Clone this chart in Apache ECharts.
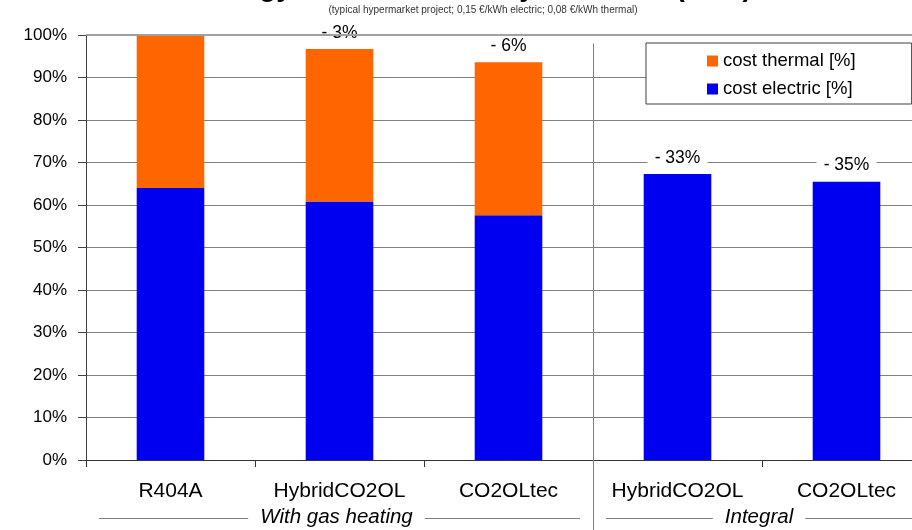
<!DOCTYPE html>
<html><head><meta charset="utf-8">
<script src="https://cdn.jsdelivr.net/npm/echarts@6/dist/echarts.min.js"></script>
<style>html,body{margin:0;padding:0;background:#fff;overflow:hidden;width:912px;height:530px}#c{width:931px;height:530px}</style>
</head><body><div id="c"></div>
<script>
const categories = ['R404A', 'HybridCO2OL', 'CO2OLtec', 'HybridCO2OL', 'CO2OLtec'];
const groupNames = ['With gas heating', 'Integral'];
const groupFrom = [0, 3];
const groupTo = [2, 4];
const electric = [64.0, 60.8, 57.6, 67.3, 65.5];
const thermal = [36.0, 35.9, 36.0, 0, 0];
const savings = ['', '- 3%', '- 6%', '- 33%', '- 35%'];
const seriesNames = ['cost electric [%]', 'cost thermal [%]'];
const titleText = 'Energy costs \u2013 electricity + thermal (in %)';
const subtitleText = '(typical hypermarket project; 0,15 \u20ac/kWh electric; 0,08 \u20ac/kWh thermal)';

const FONT = 'Arial, "Liberation Sans", sans-serif';
const chart = echarts.init(document.getElementById('c'));

const labelBase = {
  position: 'top', distance: 6, fontSize: 17.5, fontFamily: FONT, color: '#000',
  backgroundColor: '#fff', width: 60, align: 'center', padding: [1, 0]
};
const elecData = electric.map((v, i) => ({
  value: v,
  label: Object.assign({}, labelBase, { show: !(thermal[i] > 0) && savings[i] !== '', formatter: savings[i] })
}));
const thermData = thermal.map((v, i) => ({
  value: v,
  label: Object.assign({}, labelBase, { show: thermal[i] > 0 && savings[i] !== '', formatter: savings[i] })
}));

chart.setOption({
  animation: false,
  backgroundColor: '#fff',
  textStyle: { fontFamily: FONT },
  grid: { left: 86, top: 35, right: 0, bottom: 70, containLabel: false },
  legend: {
    data: [seriesNames[1], seriesNames[0]],
    orient: 'vertical', left: 646, top: 43,
    padding: [8, 56, 5, 61], itemGap: 8,
    itemWidth: 11, itemHeight: 11, icon: 'rect',
    backgroundColor: '#fff', borderColor: '#404040', borderWidth: 1,
    textStyle: { fontSize: 18.5, fontFamily: FONT, color: '#000', lineHeight: 20 },
    selectedMode: false
  },
  xAxis: {
    type: 'category', data: categories,
    axisLine: { lineStyle: { color: '#333', width: 1 } },
    axisTick: { show: true, length: 7, lineStyle: { color: '#333' } },
    axisLabel: { interval: 0, fontSize: 21, fontFamily: FONT, color: '#000', margin: 21 },
    splitLine: { show: false }
  },
  yAxis: {
    type: 'value', min: 0, max: 100, interval: 10,
    axisLine: { show: true, lineStyle: { color: '#404040', width: 1 } },
    axisTick: { show: true, length: 8, lineStyle: { color: '#404040' } },
    axisLabel: { formatter: '{value}%', fontSize: 17, fontFamily: FONT, color: '#000', margin: 19 },
    splitLine: { show: true, lineStyle: { color: '#808080', width: 1 } }
  },
  series: [
    {
      name: seriesNames[0], type: 'bar', stack: 'total', barWidth: '40%',
      itemStyle: { color: '#0000F0' }, data: elecData,
      markLine: {
        silent: true, symbol: 'none', label: { show: false },
        lineStyle: { color: '#a0a0a0', width: 2, type: 'solid' },
        data: [{ yAxis: 100 }]
      }
    },
    {
      name: seriesNames[1], type: 'bar', stack: 'total', barWidth: '40%',
      itemStyle: { color: '#FF6600' }, data: thermData
    }
  ]
});

// measure text widths
const ctx = document.createElement('canvas').getContext('2d');
function textW(t, font) { ctx.font = font; return ctx.measureText(t).width; }

const c0 = chart.convertToPixel({ xAxisIndex: 0 }, 0);
const c1 = chart.convertToPixel({ xAxisIndex: 0 }, 1);
const band = c1 - c0;
const sepX = Math.round(chart.convertToPixel({ xAxisIndex: 0 }, 2) + band / 2) + 0.5;
const sepTop = chart.convertToPixel({ yAxisIndex: 0 }, 98);

const graphics = [];
graphics.push({
  type: 'line', z: 5, silent: true,
  shape: { x1: sepX, y1: sepTop, x2: sepX, y2: 530 },
  style: { stroke: '#808080', lineWidth: 1 }
});
const gFont = 'italic 20.5px ' + FONT;
const gy = 517;
for (let g = 0; g < groupNames.length; g++) {
  const left = chart.convertToPixel({ xAxisIndex: 0 }, groupFrom[g]) - band / 2;
  const right = chart.convertToPixel({ xAxisIndex: 0 }, groupTo[g]) + band / 2;
  const mid = (left + right) / 2 - 3;
  const w = textW(groupNames[g], gFont);
  graphics.push({
    type: 'text', z: 5, silent: true,
    style: { x: mid, y: gy, text: groupNames[g], align: 'center', verticalAlign: 'middle',
      font: gFont, fill: '#000' }
  });
  graphics.push({
    type: 'line', z: 5, silent: true,
    shape: { x1: left + 13, y1: gy + 1.5, x2: mid - w / 2 - 12, y2: gy + 1.5 },
    style: { stroke: '#808080', lineWidth: 1 }
  });
  graphics.push({
    type: 'line', z: 5, silent: true,
    shape: { x1: mid + w / 2 + 12, y1: gy + 1.5, x2: right - 13, y2: gy + 1.5 },
    style: { stroke: '#808080', lineWidth: 1 }
  });
}
graphics.push({
  type: 'text', z: 5, silent: true,
  style: { x: 197, y: 2, text: titleText, align: 'left', verticalAlign: 'bottom',
    font: 'bold 28px ' + FONT, fill: '#000' }
});
graphics.push({
  type: 'text', z: 5, silent: true,
  style: { x: 483, y: 10, text: subtitleText, align: 'center', verticalAlign: 'middle',
    font: '10px ' + FONT, fill: '#333' }
});
chart.setOption({ graphic: graphics });
</script>
</body></html>
